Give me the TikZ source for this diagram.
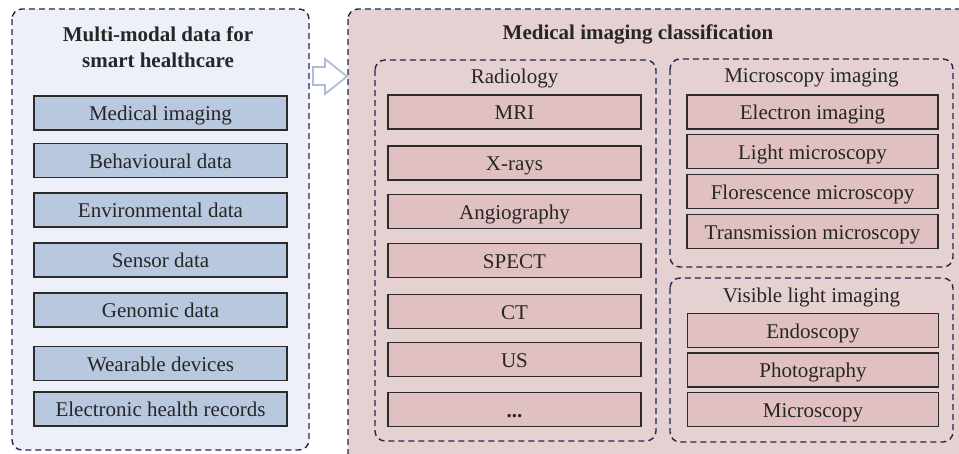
\documentclass[tikz,border=0pt]{standalone}
\usepackage{fontspec}
\setmainfont{Liberation Serif}
\definecolor{navy}{HTML}{1F2750}
\definecolor{leftbg}{HTML}{EDF0F8}
\definecolor{leftbox}{HTML}{B8C8DE}
\definecolor{rightbg}{HTML}{E5D1D1}
\definecolor{rightbox}{HTML}{E0C0C0}
\definecolor{boxline}{HTML}{2B2B2B}
\definecolor{arrowline}{HTML}{B0BCD8}
\begin{document}
\begin{tikzpicture}[x=1pt,y=-1pt,
  every node/.style={font=\fontsize{21}{25}\selectfont, text=black!85},
  group/.style={draw=navy, line width=1.4pt, dash pattern=on 6pt off 4pt, rounded corners=10pt},
  item/.style={draw=boxline, line width=1.2pt, minimum height=34pt, inner sep=0pt,
               text height=15pt, text depth=0pt},
  bluebox/.style={item, fill=leftbox, minimum width=253pt},
  pinkbox/.style={item, fill=rightbox, minimum width=253pt},
  pinkboxm/.style={item, fill=rightbox, minimum width=251pt},
  heading/.style={font=\fontsize{21}{26}\selectfont\bfseries, align=center},
  sublabel/.style={inner sep=0pt}
]
\useasboundingbox (0,0) rectangle (959,453);
\clip (0,0) rectangle (959,453);

% left panel: data sources
\draw[group, fill=leftbg] (12,9) rectangle (309,450);
\node[heading] (lefttitle) at (158,47) {Multi-modal data for\\smart healthcare};
\node[bluebox] (mi)  at (160.5,113) {Medical imaging};
\node[bluebox] (bd)  at (160.5,160.5) {Behavioural data};
\node[bluebox] (ed)  at (160.5,210) {Environmental data};
\node[bluebox] (sd)  at (160.5,260) {Sensor data};
\node[bluebox] (gd)  at (160.5,310) {Genomic data};
\node[bluebox] (wd)  at (160.5,363.5) {Wearable devices};
\node[bluebox] (ehr) at (160.5,409) {Electronic health records};

% hollow block arrow between the panels
\draw[draw=arrowline, fill=white, line width=1.8pt, line join=miter]
  (313,67) -- (325,67) -- (325,59) -- (347,76.5) -- (325,94) -- (325,85) -- (313,85) -- cycle;

% right panel: imaging classification
\draw[group, fill=rightbg] (348,9) rectangle (990,480);
\node[heading] (righttitle) at (638,34) {Medical imaging classification};

% radiology
\draw[group] (375,60) rectangle (656,441);
\node[sublabel] (radlabel) at (514.5,78) {Radiology};
\node[pinkbox] (mri)   at (514.5,112) {MRI};
\node[pinkbox] (xray)  at (514.5,163) {X-rays};
\node[pinkbox] (angio) at (514.5,211.5) {Angiography};
\node[pinkbox] (spect) at (514.5,260.5) {SPECT};
\node[pinkbox] (ct)    at (514.5,311.5) {CT};
\node[pinkbox] (us)    at (514.5,359.5) {US};
\node[pinkbox] (more)  at (514.5,409.5) {\textbf{...}};

% microscopy imaging
\draw[group] (670,59) rectangle (953,267);
\node[sublabel] (miclabel) at (811.5,78) {Microscopy imaging};
\node[pinkboxm] (elec)  at (812.5,112) {Electron imaging};
\node[pinkboxm] (light) at (812.5,151.5) {Light microscopy};
\node[pinkboxm] (flor)  at (812.5,191.5) {Florescence microscopy};
\node[pinkboxm] (trans) at (812.5,231.5) {Transmission microscopy};

% visible light imaging
\draw[group] (670,278) rectangle (953,442);
\node[sublabel] (vislabel) at (811.5,297) {Visible light imaging};
\node[pinkboxm] (endo)  at (813,330.5) {Endoscopy};
\node[pinkboxm] (photo) at (813,370) {Photography};
\node[pinkboxm] (micro) at (813,409.5) {Microscopy};
\end{tikzpicture}
\end{document}
